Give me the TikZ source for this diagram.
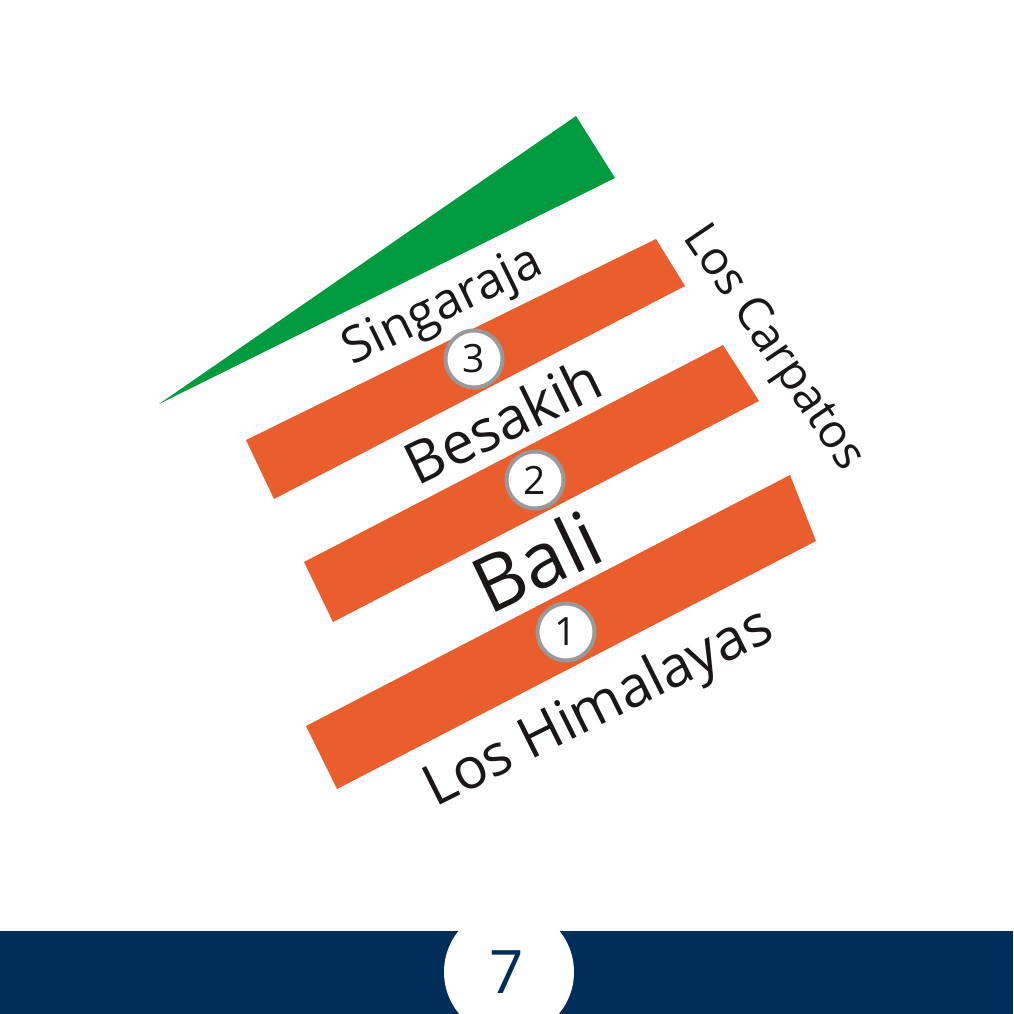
\documentclass[tikz,border=0pt]{standalone}
\usepackage{fontspec}
\setmainfont{Open Sans}
\definecolor{barorange}{RGB}{233,94,44}
\definecolor{leafgreen}{RGB}{0,155,62}
\definecolor{navyband}{RGB}{0,46,91}
\definecolor{ringgray}{RGB}{153,153,153}
\definecolor{inkblack}{RGB}{26,23,22}
\tikzset{
  place/.style={text=inkblack, inner sep=0pt, anchor=base},
  numc/.style={circle, draw=ringgray, line width=4pt, fill=white, minimum size=57pt,
    inner sep=0pt, text=inkblack, font=\fontsize{39}{42}\selectfont},
}
\begin{document}
\begin{tikzpicture}[x=1pt,y=-1pt]
\useasboundingbox (0,0) rectangle (1013,1014);
\fill[white] (0,0) rectangle (1013,1014);
% green wedge
\fill[leafgreen] (159,404) -- (576,116) -- (615,178) -- cycle;
% orange bars
\fill[barorange] (246,440) -- (656,239) -- (685,286) -- (274,499) -- cycle;
\fill[barorange] (304,562) -- (723,345) -- (759,401) -- (333,622) -- cycle;
\fill[barorange] (306,726) -- (790,475) -- (816,541) -- (337,789) -- cycle;
% labels
\node[place, rotate=26, font=\fontsize{50}{54}\selectfont] (sing) at (449,319) {Singaraja};
\node[place, rotate=26, font=\fontsize{58}{62}\selectfont] (besa) at (512,440) {Besakih};
\node[place, rotate=25.5, font=\fontsize{77}{80}\selectfont] (bali) at (549,587) {Bali};
\node[place, rotate=26.5, font=\fontsize{57}{60}\selectfont] (hima) at (606,723) {Los Himalayas};
\node[place, rotate=-55.8, font=\fontsize{47}{50}\selectfont] (carp) at (763,355) {Los Carpatos};
% numbered circles
\node[numc] (n3) at (474,359) {3};
\node[numc] (n2) at (535,480) {2};
\node[numc] (n1) at (566,632) {1};
% bottom band
\fill[navyband] (0,931) rectangle (1013,1014);
\fill[white] (509,972) circle[radius=65pt];
\node[text=navyband, font=\fontsize{60}{64}\selectfont, inner sep=0pt] (pnum) at (507,972) {7};
\end{tikzpicture}
\end{document}
